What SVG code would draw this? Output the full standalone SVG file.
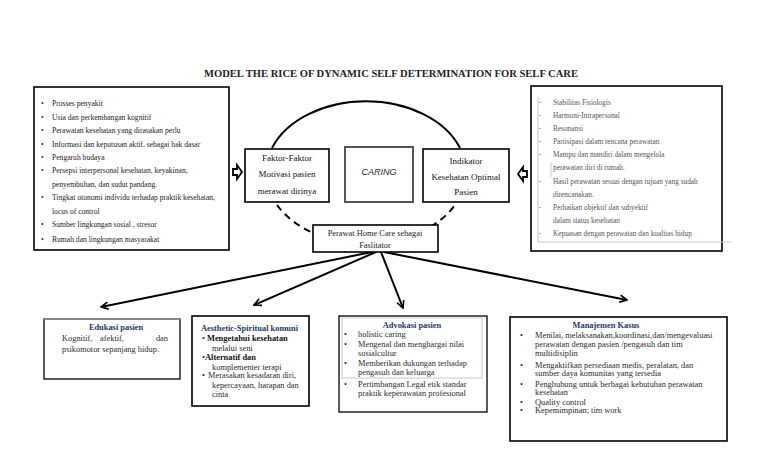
<svg xmlns="http://www.w3.org/2000/svg" width="768" height="466" viewBox="0 0 768 466">
<defs>
<style>
.t{font-family:"Liberation Serif","Times New Roman",serif;fill:#222}
.sm{font-size:7.6px}
.rs{font-size:7.3px;fill:#555}
.md{font-size:9px;fill:#111}
.bt{font-size:8.4px;fill:#2a2a2a}
.hd{font-size:8.4px;font-weight:bold;fill:#1F3864}
.box{fill:#fff;stroke:#000;stroke-width:1.6}
.thin{fill:#fff;stroke:#000;stroke-width:1.3}
.gl{stroke:#c8c8c8;stroke-width:1;fill:none}
.conn{stroke:#000;stroke-width:2;fill:none}
.blk{fill:#fff;stroke:#000;stroke-width:1.8}
</style>
<marker id="ah" viewBox="0 0 10 10" refX="9" refY="5" markerWidth="9" markerHeight="9" markerUnits="userSpaceOnUse" orient="auto">
<path d="M1,1 L9,5 L1,9" fill="none" stroke="#000" stroke-width="1.8"/>
</marker>
</defs>
<rect width="768" height="466" fill="#fff"/>
<text class="t" x="391" y="77" text-anchor="middle" font-size="10.5" font-weight="bold" fill="#111" textLength="374" lengthAdjust="spacingAndGlyphs">MODEL THE RICE OF DYNAMIC SELF DETERMINATION FOR SELF CARE</text>

<g id="connectors">
<path d="M272,148 A100,71 0 0 1 460,148" class="conn"/>
<path d="M277,205 A100,71 0 0 0 455,205" class="conn" stroke-dasharray="7,5"/>
<line x1="372" y1="252" x2="101" y2="307" class="conn" marker-end="url(#ah)"/>
<line x1="376" y1="252" x2="254" y2="305" class="conn" marker-end="url(#ah)"/>
<line x1="381" y1="252" x2="403" y2="308" class="conn" marker-end="url(#ah)"/>
<line x1="384" y1="252" x2="627" y2="300" class="conn" marker-end="url(#ah)"/>
<path class="blk" d="M233,169 L237,169 L237,165 L242,172 L237,179 L237,175 L233,175 Z"/>
<path class="blk" d="M527,171 L523,171 L523,167 L518,174 L523,181 L523,177 L527,177 Z"/>
</g>

<g id="left-factors">
<rect class="box" x="34" y="87" width="195" height="163"/>
<g class="t sm">
<text x="41" y="106">•</text><text x="52" y="106">Prosses penyakit</text>
<text x="41" y="120">•</text><text x="52" y="120">Usia dan perkembangan kognitif</text>
<text x="41" y="133">•</text><text x="52" y="133">Perawatan kesehatan yang dirasakan perlu</text>
<text x="41" y="147">•</text><text x="52" y="147">Informasi dan keputusan aktif, sebagai hak dasar</text>
<text x="41" y="160">•</text><text x="52" y="160">Pengaruh budaya</text>
<text x="41" y="173">•</text><text x="52" y="173">Persepsi interpersonal kesehatan, keyakinan,</text>
<text x="52" y="187">penyembuhan, dan sudut pandang.</text>
<text x="41" y="200">•</text><text x="52" y="200">Tingkat otonomi individu terhadap praktik kesehatan,</text>
<text x="52" y="214">locus of control</text>
<text x="41" y="227">•</text><text x="52" y="227">Sumber lingkungan sosial , stresor</text>
<text x="41" y="242">•</text><text x="52" y="242">Rumah dan lingkungan masyarakat</text>
</g>
</g>

<g id="right-indicators">
<rect class="box" x="531" y="86" width="191" height="165"/>
<line class="gl" x1="538" y1="97" x2="538" y2="242"/>
<line class="gl" x1="538" y1="242" x2="732" y2="242"/>
<line class="gl" x1="551" y1="162" x2="551" y2="177"/>
<g class="t rs">
<text x="539" y="104" font-size="5">•</text><text x="553" y="105">Stabilitas Fisiologis</text>
<text x="539" y="117" font-size="5">•</text><text x="553" y="118">Harmoni-Intrapersonal</text>
<text x="539" y="130" font-size="5">•</text><text x="553" y="131">Resonansi</text>
<text x="539" y="143" font-size="5">•</text><text x="553" y="144">Partisipasi dalam  rencana perawatan</text>
<text x="539" y="156" font-size="5">•</text><text x="553" y="157">Mampu dan mandiri  dalam mengelola</text>
<text x="553" y="170">perawatan diri  di rumah.</text>
<text x="539" y="183" font-size="5">•</text><text x="553" y="184">Hasil perawatan sesuai dengan tujuan yang sudah</text>
<text x="553" y="197">direncanakan.</text>
<text x="539" y="209" font-size="5">•</text><text x="553" y="210">Perbaikan objektif dan subyektif</text>
<text x="553" y="223">dalam status kesehatan</text>
<text x="539" y="235" font-size="5">•</text><text x="553" y="236">Kepuasan dengan perawatan dan kualitas hidup</text>
</g>
</g>

<g id="faktor">
<rect class="box" x="245" y="149" width="84" height="53"/>
<g class="t md" text-anchor="middle">
<text x="287" y="161">Faktor-Faktor</text>
<text x="287" y="177">Motivasi pasien</text>
<text x="287" y="194">merawat dirinya</text>
</g>
</g>

<g id="caring">
<rect x="345" y="147" width="68" height="55" fill="#fff" stroke="#555" stroke-width="2"/>
<text x="379" y="175" text-anchor="middle" font-family="Liberation Sans, Arial, sans-serif" font-style="italic" font-size="9" fill="#222">CARING</text>
</g>

<g id="indikator">
<rect class="box" x="423" y="149" width="86" height="53"/>
<g class="t md" text-anchor="middle">
<text x="466" y="164">Indikator</text>
<text x="466" y="180">Kesehatan Optimal</text>
<text x="466" y="195">Pasien</text>
</g>
</g>

<g id="perawat">
<rect class="box" x="313" y="225" width="125" height="27"/>
<g class="t" font-size="8.4" text-anchor="middle" fill="#222">
<text x="375" y="236">Perawat Home Care sebagai</text>
<text x="375" y="248">Faslitator</text>
</g>
</g>

<g id="edukasi">
<rect class="thin" x="44" y="319" width="136" height="60"/>
<line x1="44" y1="319" x2="180" y2="319" stroke="#999" stroke-width="1.3"/>
<text class="t hd" x="116" y="330" text-anchor="middle">Edukasi pasien</text>
<g class="t bt" font-size="8.8">
<text x="62" y="341">Kognitif,</text>
<text x="100" y="341">afektif,</text>
<text x="168" y="341" text-anchor="end">dan</text>
<text x="62" y="352">psikomotor sepanjang hidup.</text>
</g>
</g>

<g id="aesthetic">
<rect class="box" x="192" y="316" width="117" height="90"/>
<text class="t hd" x="201" y="331" fill="#2E4A8B">Aesthetic-Spiritual komuni</text>
<g class="t bt">
<text x="202" y="341">•</text><text x="207" y="341" font-weight="bold" fill="#111">Mengetahui kesehatan</text>
<text x="212" y="351">melalui seni</text>
<text x="202" y="360">•</text><text x="205" y="360" font-weight="bold" fill="#111">Alternatif dan</text>
<text x="212" y="370">komplementer terapi</text>
<text x="202" y="378">•</text><text x="208" y="378">Merasakan kesadaran diri,</text>
<text x="212" y="388">kepercayaan, harapan dan</text>
<text x="212" y="397">cinta</text>
</g>
</g>

<g id="advokasi">
<rect class="thin" x="339" y="316" width="148" height="96"/>
<rect class="gl" x="342" y="318" width="140" height="60"/>
<text class="t hd" x="412" y="328" text-anchor="middle">Advokasi pasien</text>
<g class="t bt">
<text x="344" y="337">•</text><text x="358" y="337">holistic caring</text>
<text x="344" y="347">•</text><text x="358" y="347">Mengenal dan menghargai nilai</text>
<text x="358" y="355.5">sosialcultur</text>
<text x="344" y="366">•</text><text x="358" y="366">Memberikan dukungan terhadap</text>
<text x="358" y="375">pengasuh dan keluarga</text>
<text x="344" y="387">•</text><text x="358" y="387">Pertimbangan Legal etik standar</text>
<text x="358" y="396">praktik keperawatan profesional</text>
</g>
</g>

<g id="manajemen">
<rect class="box" x="510" y="317" width="217" height="124"/>
<text class="t hd" x="606" y="328" text-anchor="middle">Manajemen Kasus</text>
<g class="t bt">
<text x="520" y="338">•</text><text x="535" y="338">Menilai, melaksanakan,koordinasi,dan/mengevaluasi</text>
<text x="535" y="347">perawatan dengan pasien /pengasuh dan tim</text>
<text x="535" y="355.5">multidisiplin</text>
<text x="520" y="367.5">•</text><text x="535" y="367.5">Mengaktifkan persediaan medis, peralatan, dan</text>
<text x="535" y="376">sumber daya komunitas yang tersedia</text>
<text x="520" y="387">•</text><text x="535" y="387">Penghubung untuk berbagai kebutuhan perawatan</text>
<text x="535" y="395">kesehatan</text>
<text x="520" y="404.5">•</text><text x="535" y="404.5">Quality control</text>
<text x="520" y="412.5">•</text><text x="535" y="412.5">Kepemimpinan; tim work</text>
</g>
</g>
</svg>
